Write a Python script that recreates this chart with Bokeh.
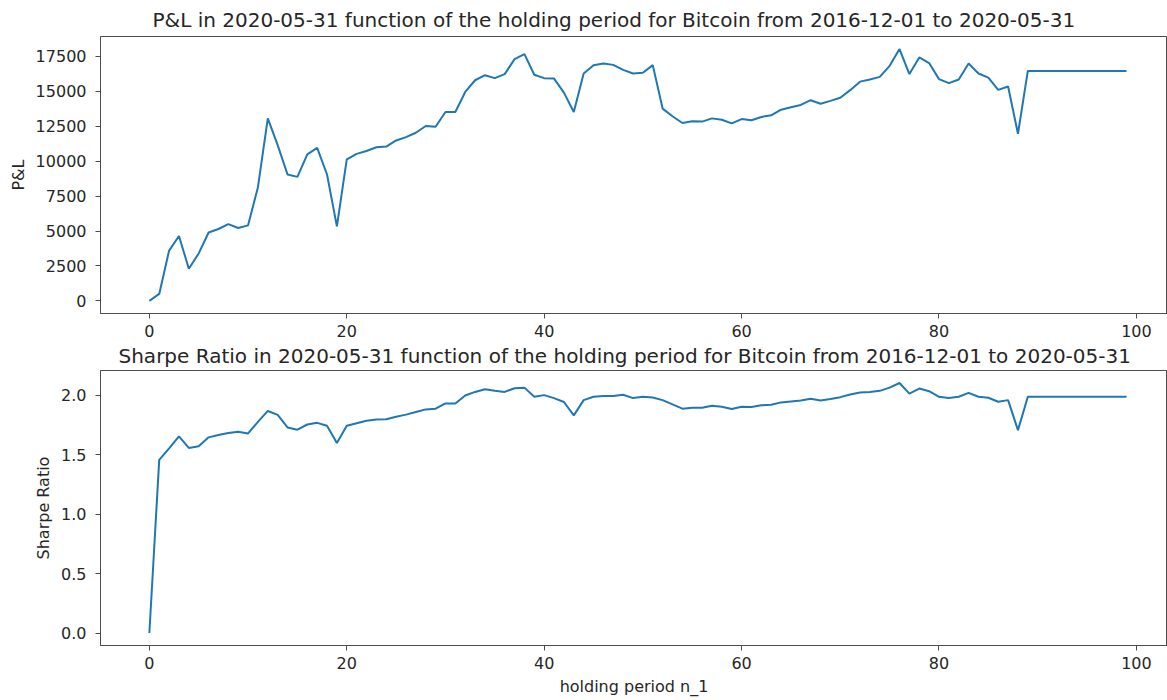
from bokeh.plotting import figure
from bokeh.layouts import column
from bokeh.models import Range1d, FixedTicker, NumeralTickFormatter
from bokeh.embed import file_html
from bokeh.resources import INLINE

# ---------------- data ----------------
holding_period = list(range(100))

pnl = [
    0, 500, 3600, 4650, 2300, 3400, 4900, 5150, 5500, 5220,
    5410, 8140, 13070, 11150, 9050, 8880, 10490, 10960, 9050, 5340,
    10130, 10530, 10730, 11000, 11050, 11490, 11730, 12040, 12520, 12470,
    13530, 13530, 14960, 15800, 16160, 15950, 16240, 17310, 17670, 16190,
    15950, 15920, 14910, 13530, 16280, 16880, 17000, 16900, 16540, 16280,
    16330, 16880, 13770, 13220, 12740, 12860, 12840, 13070, 12970, 12710,
    13020, 12930, 13170, 13290, 13690, 13860, 14030, 14370, 14120, 14320,
    14550, 15090, 15700, 15850, 16040, 16830, 18030, 16240, 17430, 17030,
    15880, 15590, 15850, 17000, 16280, 15990, 15110, 15350, 11970, 16470,
    16470, 16470, 16470, 16470, 16470, 16470, 16470, 16470, 16470, 16470,
]

sharpe = [
    0.000, 1.456, 1.553, 1.653, 1.556, 1.570, 1.645, 1.664, 1.681, 1.692,
    1.678, 1.775, 1.867, 1.834, 1.728, 1.709, 1.753, 1.767, 1.742, 1.597,
    1.742, 1.764, 1.784, 1.795, 1.797, 1.819, 1.836, 1.858, 1.880, 1.886,
    1.930, 1.930, 1.997, 2.027, 2.050, 2.036, 2.027, 2.058, 2.063, 1.986,
    2.000, 1.975, 1.942, 1.830, 1.958, 1.986, 1.992, 1.992, 2.003, 1.975,
    1.986, 1.980, 1.958, 1.922, 1.886, 1.894, 1.894, 1.911, 1.903, 1.883,
    1.903, 1.900, 1.914, 1.919, 1.939, 1.947, 1.955, 1.969, 1.955, 1.967,
    1.983, 2.005, 2.022, 2.027, 2.036, 2.063, 2.102, 2.013, 2.055, 2.033,
    1.986, 1.975, 1.986, 2.019, 1.986, 1.978, 1.944, 1.958, 1.706, 1.986,
    1.986, 1.986, 1.986, 1.986, 1.986, 1.986, 1.986, 1.986, 1.986, 1.986,
]

x_ticks = [0, 20, 40, 60, 80, 100]
pnl_ticks = [0, 2500, 5000, 7500, 10000, 12500, 15000, 17500]
sharpe_ticks = [0.0, 0.5, 1.0, 1.5, 2.0]

title_pnl = "P&L in 2020-05-31 function of the holding period for Bitcoin from 2016-12-01 to 2020-05-31"
title_sharpe = "Sharpe Ratio in 2020-05-31 function of the holding period for Bitcoin from 2016-12-01 to 2020-05-31"
ylabel_pnl = "P&L"
ylabel_sharpe = "Sharpe Ratio"
xlabel = "holding period n_1"

# ---------------- style ----------------
FONT = "DejaVu Sans"
TEXT = "#262626"
SPINE = "#4d4d4d"
LINE = "#1f77b4"


def padded(vals, frac=0.05):
    lo, hi = min(vals), max(vals)
    m = (hi - lo) * frac
    return lo - m, hi + m


def make_fig(height, top, bottom, title, title_offset, title_standoff,
             ylab, ydata, yticks, fmt, show_xlabel):
    y0, y1 = padded(ydata)
    p = figure(width=1167, height=height, output_backend="svg", toolbar_location=None,
               x_range=Range1d(-4.95, 103.15), y_range=Range1d(y0, y1),
               min_border_left=100, min_border_right=0,
               min_border_top=top, min_border_bottom=bottom)
    p.title.text = title
    p.title.text_font = FONT
    p.title.text_font_size = "20px"
    p.title.text_font_style = "normal"
    p.title.text_color = TEXT
    p.title.align = "left"
    p.title.vertical_align = "middle"
    p.title.offset = title_offset
    p.title.standoff = title_standoff
    p.grid.visible = False
    p.outline_line_color = SPINE
    p.outline_line_width = 1
    p.background_fill_color = "white"
    p.border_fill_color = "white"

    p.line(holding_period, ydata, line_color=LINE, line_width=2)

    for ax in (p.xaxis[0], p.yaxis[0]):
        ax.axis_line_color = SPINE
        ax.major_tick_line_color = SPINE
        ax.major_tick_out = 5
        ax.major_tick_in = 0
        ax.minor_tick_line_color = None
        ax.major_label_text_font = FONT
        ax.major_label_text_font_size = "16px"
        ax.major_label_text_color = TEXT
        ax.axis_label_text_font = FONT
        ax.axis_label_text_font_size = "16px"
        ax.axis_label_text_font_style = "normal"
        ax.axis_label_text_color = TEXT

    p.xaxis.ticker = FixedTicker(ticks=x_ticks)
    p.xaxis.major_label_standoff = 6
    p.yaxis.ticker = FixedTicker(ticks=yticks)
    p.yaxis.formatter = NumeralTickFormatter(format=fmt)
    p.yaxis.major_label_standoff = 9
    p.yaxis.axis_label = ylab
    p.yaxis.axis_label_standoff = 5
    if show_xlabel:
        p.xaxis.axis_label = xlabel
        p.xaxis.axis_label_standoff = 5
    return p


p1 = make_fig(340, 36, 27, title_pnl, 52, 7, ylabel_pnl, pnl, pnl_ticks, "0", False)
p2 = make_fig(360, 30, 55, title_sharpe, 18, 3, ylabel_sharpe, sharpe, sharpe_ticks, "0.0", True)

layout = column(p1, p2, spacing=0)

with open("out.html", "w") as f:
    f.write(file_html(layout, INLINE))
